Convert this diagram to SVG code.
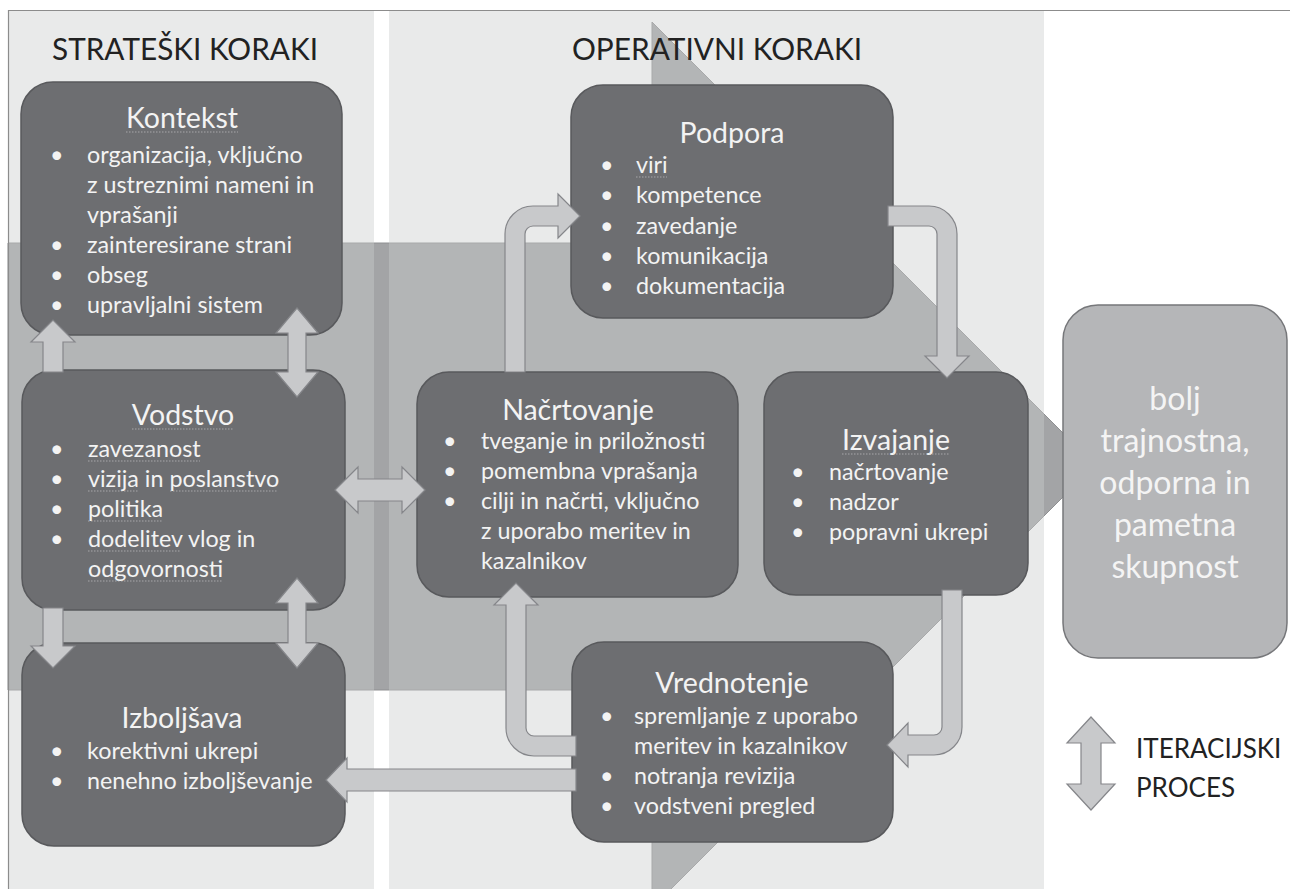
<svg xmlns="http://www.w3.org/2000/svg" width="1290" height="889" viewBox="0 0 1290 889">
<defs>
<style>
text{font-family:Lato,"Liberation Sans",sans-serif}
.h{font-size:30px;fill:#222}
.t{font-size:28.5px;fill:#f3f3f3;text-anchor:middle}
.b{font-size:23.3px;fill:#f3f3f3}
.r{font-size:32px;fill:#f4f4f4;text-anchor:middle}
.lg{font-size:26px;fill:#222}
.box{fill:#6d6e71;stroke:#58595c;stroke-width:1.5}
.res{fill:#b5b6b8;stroke:#76777a;stroke-width:1.5}
.con{fill:#c8c9cb;stroke:#85868a;stroke-width:1.2;stroke-linejoin:miter}
.ul{fill:none;stroke:#cfcfcf;stroke-opacity:0.6;stroke-width:1.2;stroke-dasharray:1.5 1.5}
</style>
</defs>
<rect x="0" y="0" width="1290" height="889" fill="#ffffff"/>
<g id="background">
<polygon points="8,243 652,243 652,22 1095,465 652,908 652,690 8,690" fill="#a3a4a6" stroke="#8f9092" stroke-width="1"/>
<rect x="8" y="11" width="366" height="878" fill="#cbccce" fill-opacity="0.42"/>
<rect x="389" y="11" width="655" height="878" fill="#cbccce" fill-opacity="0.42"/>
<path d="M8.5,889 V10.5 H1290" fill="none" stroke="#8c8c8c" stroke-width="1.2"/>
</g>
<g id="headers">
<text class="h" x="52" y="60" textLength="266" lengthAdjust="spacingAndGlyphs">STRATEŠKI KORAKI</text>
<text class="h" x="572" y="60" textLength="290" lengthAdjust="spacingAndGlyphs">OPERATIVNI KORAKI</text>
</g>
<g id="kontekst">
<rect class="box" x="21" y="82" width="321" height="253" rx="32"/>
<text class="t" x="182" y="128">Kontekst</text>
<path class="ul" d="M126,132 H238"/>
<text class="b" x="50" y="163">•</text><text class="b" x="87" y="163">organizacija, vključno</text>
<text class="b" x="87" y="193">z ustreznimi nameni in</text>
<text class="b" x="87" y="223">vprašanji</text>
<text class="b" x="50" y="253">•</text><text class="b" x="87" y="253">zainteresirane strani</text>
<text class="b" x="50" y="283">•</text><text class="b" x="87" y="283">obseg</text>
<text class="b" x="50" y="313">•</text><text class="b" x="87" y="313">upravljalni sistem</text>
</g>
<g id="vodstvo">
<rect class="box" x="22" y="370" width="323" height="240" rx="32"/>
<text class="t" x="183" y="425">Vodstvo</text>
<path class="ul" d="M132,429 H234"/>
<text class="b" x="50" y="457">•</text><text class="b" x="88" y="457">zavezanost</text>
<text class="b" x="50" y="487">•</text><text class="b" x="88" y="487">vizija in poslanstvo</text>
<text class="b" x="50" y="517">•</text><text class="b" x="88" y="517">politika</text>
<text class="b" x="50" y="547">•</text><text class="b" x="88" y="547">dodelitev vlog in</text>
<text class="b" x="88" y="577">odgovornosti</text>
<path class="ul" d="M88,461 H200 M88,491 H138 M170,491 H278 M88,521 H162 M88,551 H181 M88,581 H222"/>
</g>
<g id="izboljsava">
<rect class="box" x="22" y="643" width="323" height="203" rx="32"/>
<text class="t" x="182" y="728">Izboljšava</text>
<text class="b" x="50" y="759">•</text><text class="b" x="87" y="759">korektivni ukrepi</text>
<text class="b" x="50" y="789">•</text><text class="b" x="87" y="789">nenehno izboljševanje</text>
</g>
<g id="podpora">
<rect class="box" x="571" y="85" width="322" height="233" rx="32"/>
<text class="t" x="732" y="143">Podpora</text>
<text class="b" x="600" y="173">•</text><text class="b" x="636" y="173">viri</text>
<path class="ul" d="M636,177 H667"/>
<text class="b" x="600" y="203">•</text><text class="b" x="636" y="203">kompetence</text>
<text class="b" x="600" y="234">•</text><text class="b" x="636" y="234">zavedanje</text>
<text class="b" x="600" y="264">•</text><text class="b" x="636" y="264">komunikacija</text>
<text class="b" x="600" y="294">•</text><text class="b" x="636" y="294">dokumentacija</text>
</g>
<g id="nacrtovanje">
<rect class="box" x="417" y="372" width="321" height="225" rx="32"/>
<text class="t" x="578" y="420">Načrtovanje</text>
<text class="b" x="443" y="449">•</text><text class="b" x="481" y="449">tveganje in priložnosti</text>
<text class="b" x="443" y="479">•</text><text class="b" x="481" y="479">pomembna vprašanja</text>
<text class="b" x="443" y="509">•</text><text class="b" x="481" y="509">cilji in načrti, vključno</text>
<text class="b" x="481" y="539">z uporabo meritev in</text>
<text class="b" x="481" y="569">kazalnikov</text>
</g>
<g id="izvajanje">
<rect class="box" x="764" y="372" width="264" height="223" rx="32"/>
<text class="t" x="896" y="450">Izvajanje</text>
<path class="ul" d="M842,454 H950"/>
<text class="b" x="791" y="480">•</text><text class="b" x="829" y="480">načrtovanje</text>
<text class="b" x="791" y="510">•</text><text class="b" x="829" y="510">nadzor</text>
<text class="b" x="791" y="540">•</text><text class="b" x="829" y="540">popravni ukrepi</text>
</g>
<g id="vrednotenje">
<rect class="box" x="572" y="642" width="321" height="200" rx="32"/>
<text class="t" x="732" y="693">Vrednotenje</text>
<text class="b" x="600" y="724">•</text><text class="b" x="634" y="724">spremljanje z uporabo</text>
<text class="b" x="634" y="754">meritev in kazalnikov</text>
<text class="b" x="600" y="784">•</text><text class="b" x="634" y="784">notranja revizija</text>
<text class="b" x="600" y="814">•</text><text class="b" x="634" y="814">vodstveni pregled</text>
</g>
<g id="rezultat">
<rect class="res" x="1063" y="305" width="224" height="353" rx="35"/>
<text class="r" x="1175" y="410">bolj</text>
<text class="r" x="1175" y="452">trajnostna,</text>
<text class="r" x="1175" y="494">odporna in</text>
<text class="r" x="1175" y="536">pametna</text>
<text class="r" x="1175" y="578">skupnost</text>
</g>
<g id="connectors">
<path class="con" d="M43,372 V342 H31 L53,320 L75,342 H63 V372 Z"/>
<path class="con" d="M43,608 V646 H31 L53,668 L75,646 H63 V608 Z"/>
<path class="con" d="M297,308 L318,333 H306 V372 H318 L297,397 L276,372 H288 V333 H276 Z"/>
<path class="con" d="M297,578 L318,603 H306 V643 H318 L297,668 L276,643 H288 V603 H276 Z"/>
<path class="con" d="M335,490 L358,467 V479 H402 V467 L425,490 L402,513 V501 H358 V513 Z"/>
<path class="con" d="M505,372 V234 A28,28 0 0 1 533,206 H558 V194 L580,216 L558,238 V226 H533 A8,8 0 0 0 525,234 V372 Z"/>
<path class="con" d="M888,206 H929 A28,28 0 0 1 957,234 V356 H969 L947,378 L925,356 H937 V234 A8,8 0 0 0 929,226 H888 Z"/>
<path class="con" d="M942,590 V727 A8,8 0 0 1 934,735 H908 V723 L887,745 L908,767 V755 H934 A28,28 0 0 0 962,727 V590 Z"/>
<path class="con" d="M576,736 H534 A8,8 0 0 1 526,728 V605 H538 L516,583 L494,605 H506 V728 A28,28 0 0 0 534,756 H576 Z"/>
<path class="con" d="M576,769 H347 V758 L326,780 L347,802 V791 H576 Z"/>
</g>
<g id="legend">
<path class="con" d="M1091,717 L1115,743 H1101 V784 H1115 L1091,810 L1067,784 H1081 V743 H1067 Z"/>
<text class="lg" x="1136" y="758">ITERACIJSKI</text>
<text class="lg" x="1136" y="797">PROCES</text>
</g>
</svg>
